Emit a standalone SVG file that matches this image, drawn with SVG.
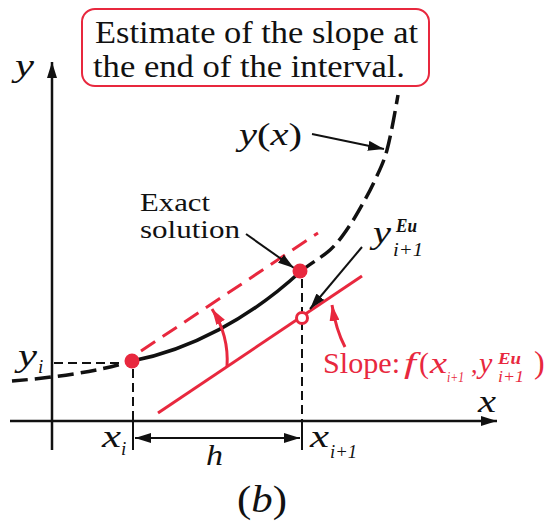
<svg xmlns="http://www.w3.org/2000/svg" width="550" height="531" viewBox="0 0 550 531">
<defs>
<style>
.t{font-family:"Liberation Serif","Times New Roman",serif;fill:#111}
.it{font-style:italic}
.r{fill:#e8283e}
.ax{stroke:#111;stroke-width:2.5;fill:none}
.thin{stroke:#111;stroke-width:2;fill:none}
.dsh{stroke:#111;stroke-width:2;fill:none;stroke-dasharray:9 5}
.crv{stroke:#111;stroke-width:3.5;fill:none}
.red{stroke:#e8283e;stroke-width:3;fill:none}
</style>
<marker id="ak" markerUnits="userSpaceOnUse" markerWidth="16" markerHeight="10" refX="16" refY="5" orient="auto-start-reverse"><path d="M0,0 L16,5 L0,10 z" fill="#111"/></marker>
<marker id="ar" markerUnits="userSpaceOnUse" markerWidth="16" markerHeight="10" refX="16" refY="5" orient="auto"><path d="M0,0 L16,5 L0,10 z" fill="#e8283e"/></marker>
</defs>
<rect width="550" height="531" fill="#fff"/>

<g id="connectors">
<line class="ax" x1="52" y1="450" x2="52" y2="62" marker-end="url(#ak)"/>
<line class="ax" x1="10" y1="421" x2="497" y2="421" marker-end="url(#ak)"/>
<line class="dsh" x1="54" y1="363" x2="124" y2="363"/>
<line class="dsh" x1="133" y1="369" x2="133" y2="421"/>
<line class="thin" x1="133" y1="421" x2="133" y2="450"/>
<line class="dsh" x1="302" y1="279" x2="302" y2="421"/>
<line class="thin" x1="302" y1="421" x2="302" y2="450"/>
<line class="thin" x1="135" y1="438" x2="300" y2="438" marker-start="url(#ak)" marker-end="url(#ak)"/>
<path class="crv" d="M12,381 C50,378 95,372 125,363" stroke-dasharray="16 7"/>
<path class="crv" d="M132,361 C190,350 250,318 300,272"/>
<path class="crv" stroke-dasharray="18 7" d="M300,272 C310,263.5 322,257.3 330,250 C338,242.7 342.7,235.5 348,228 C353.3,220.5 357.5,213 362,205 C366.5,197 370.8,189.2 375,180 C379.2,170.8 383.2,163.8 387,150 C390.8,136.2 395.3,110.3 398,95"/>
<path class="red" d="M141,351 L318,233" stroke-dasharray="17 9"/>
<path class="red" d="M158,413 L362,276"/>
<path class="red" d="M227,367 A95,95 0 0,0 212,309" marker-end="url(#ar)"/>
<path class="red" d="M345,347 Q336,330 332,305" marker-end="url(#ar)"/>
<line class="thin" x1="312" y1="134" x2="384" y2="149" marker-end="url(#ak)"/>
<line class="thin" x1="246" y1="234" x2="294" y2="268" marker-end="url(#ak)"/>
<line class="thin" x1="362" y1="247" x2="310" y2="309" marker-end="url(#ak)"/>
</g>

<g id="point-yi">
<circle cx="132" cy="361" r="7.5" fill="#e8283e"/>
</g>
<g id="point-exact">
<circle cx="300" cy="271" r="7.5" fill="#e8283e"/>
</g>
<g id="point-euler">
<circle cx="302" cy="318" r="5.5" fill="#fff" stroke="#e8283e" stroke-width="3"/>
</g>

<g id="note-box">
<rect x="82" y="9" width="347" height="77" rx="13" fill="#fff" stroke="#e8283e" stroke-width="2"/>
<text class="t" x="95" y="43" font-size="31" textLength="323" lengthAdjust="spacingAndGlyphs">Estimate of the slope at</text>
<text class="t" x="93" y="77" font-size="31" textLength="312" lengthAdjust="spacingAndGlyphs">the end of the interval.</text>
</g>

<g id="label-yx">
<text class="t" x="239" y="145" font-size="31" textLength="63" lengthAdjust="spacingAndGlyphs"><tspan class="it">y</tspan>(<tspan class="it">x</tspan>)</text>
</g>

<g id="label-exact">
<text class="t" x="140" y="211" font-size="25" textLength="70" lengthAdjust="spacingAndGlyphs">Exact</text>
<text class="t" x="140" y="238" font-size="25" textLength="100" lengthAdjust="spacingAndGlyphs">solution</text>
</g>

<g id="label-yeu">
<text class="t it" x="373" y="243" font-size="32" textLength="18" lengthAdjust="spacingAndGlyphs">y</text>
<text class="t it" x="396" y="232" font-size="18" font-weight="bold" textLength="21" lengthAdjust="spacingAndGlyphs">Eu</text>
<text class="t it" x="393" y="256" font-size="19" textLength="30" lengthAdjust="spacingAndGlyphs">i+1</text>
</g>

<g id="label-slope">
<text class="t r" x="323" y="373" font-size="30" textLength="77" lengthAdjust="spacingAndGlyphs">Slope:</text>
<text class="t r it" x="404" y="373" font-size="30" textLength="12" lengthAdjust="spacingAndGlyphs">f</text>
<text class="t r" x="419" y="373" font-size="30">(</text>
<text class="t r it" x="430" y="373" font-size="30" textLength="17" lengthAdjust="spacingAndGlyphs">x</text>
<text class="t r it" x="447" y="382" font-size="15" textLength="17" lengthAdjust="spacingAndGlyphs">i+1</text>
<text class="t r" x="471" y="373" font-size="26">,<tspan class="it" x="479" font-size="30">y</tspan></text>
<text class="t r it" x="498" y="364" font-size="17" font-weight="bold" textLength="23" lengthAdjust="spacingAndGlyphs">Eu</text>
<text class="t r it" x="498" y="382" font-size="17" textLength="26" lengthAdjust="spacingAndGlyphs">i+1</text>
<text class="t r" x="534" y="373" font-size="32">)</text>
</g>

<g id="axis-labels">
<text class="t it" x="15" y="76" font-size="32" textLength="19" lengthAdjust="spacingAndGlyphs">y</text>
<text class="t it" x="478" y="412" font-size="32" textLength="18" lengthAdjust="spacingAndGlyphs">x</text>
<text class="t it" x="18" y="366" font-size="32" textLength="19" lengthAdjust="spacingAndGlyphs">y</text>
<text class="t it" x="38" y="373" font-size="19">i</text>
<text class="t it" x="102" y="447" font-size="32" textLength="19" lengthAdjust="spacingAndGlyphs">x</text>
<text class="t it" x="121" y="455" font-size="19">i</text>
<text class="t it" x="310" y="447" font-size="32" textLength="19" lengthAdjust="spacingAndGlyphs">x</text>
<text class="t it" x="330" y="458" font-size="19" textLength="27" lengthAdjust="spacingAndGlyphs">i+1</text>
<text class="t it" x="206" y="465" font-size="30" textLength="17" lengthAdjust="spacingAndGlyphs">h</text>
<text class="t" x="237" y="512" font-size="38" textLength="50" lengthAdjust="spacingAndGlyphs">(<tspan class="it">b</tspan>)</text>
</g>
</svg>
